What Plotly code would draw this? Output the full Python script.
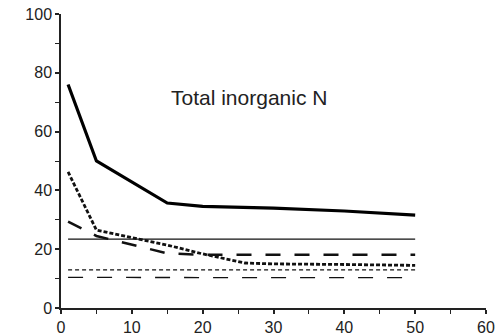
import plotly.graph_objects as go

# Data
thick_solid_x = [1, 5, 15, 20, 30, 40, 50]
thick_solid_y = [76, 50, 35.7, 34.6, 34.0, 33.0, 31.6]

thin_solid_x = [1, 50]
thin_solid_y = [23.4, 23.4]

thick_dot_x = [1, 5, 15, 20, 26, 30, 40, 50]
thick_dot_y = [46.3, 26.5, 21.4, 18.4, 15.3, 15.0, 14.8, 14.5]

long_dash_x = [1, 5, 15, 20, 30, 40, 50]
long_dash_y = [29.4, 24.5, 18.6, 18.1, 18.1, 18.1, 18.1]

thin_short_dash_x = [1, 50]
thin_short_dash_y = [13.0, 13.0]

thin_long_dash_x = [1, 50]
thin_long_dash_y = [10.4, 10.3]

x_ticks = [0, 10, 20, 30, 40, 50, 60]
y_ticks = [0, 20, 40, 60, 80, 100]
label_text = "Total inorganic N"

fig = go.Figure()
fig.add_trace(go.Scatter(x=thin_solid_x, y=thin_solid_y, mode="lines",
                         line=dict(color="#111", width=1.3)))
fig.add_trace(go.Scatter(x=thin_short_dash_x, y=thin_short_dash_y, mode="lines",
                         line=dict(color="#111", width=1.3, dash="4px,3px")))
fig.add_trace(go.Scatter(x=thin_long_dash_x, y=thin_long_dash_y, mode="lines",
                         line=dict(color="#111", width=1.3, dash="15px,14px")))
fig.add_trace(go.Scatter(x=long_dash_x, y=long_dash_y, mode="lines",
                         line=dict(color="#111", width=2.5, dash="15px,14px")))
fig.add_trace(go.Scatter(x=thick_dot_x, y=thick_dot_y, mode="lines",
                         line=dict(color="#111", width=2.8, dash="4px,2px")))
fig.add_trace(go.Scatter(x=thick_solid_x, y=thick_solid_y, mode="lines",
                         line=dict(color="#000", width=3.2)))

fig.add_annotation(x=26.6, y=71.5, text=label_text, showarrow=False,
                   font=dict(size=21, color="#222", family="Liberation Sans"))

axis_common = dict(showgrid=False, zeroline=False, showline=True, linecolor="#222",
                   linewidth=1.5, ticks="outside", ticklen=4, tickwidth=1.5,
                   tickcolor="#222", automargin=False, ticklabeloverflow="allow",
                   tickfont=dict(size=16, color="#222", family="Liberation Sans"))
fig.update_xaxes(range=[0, 60], tickvals=x_ticks,
                 minor=dict(dtick=5, tick0=0, ticks="outside", ticklen=4,
                            tickwidth=1.2, tickcolor="#222"),
                 **axis_common)
fig.update_yaxes(range=[0, 100], tickvals=y_ticks,
                 minor=dict(dtick=10, tick0=0, ticks="outside", ticklen=4,
                            tickwidth=1.2, tickcolor="#222"),
                 **axis_common)

fig.update_layout(width=495, height=335, showlegend=False,
                  plot_bgcolor="white", paper_bgcolor="white",
                  margin=dict(l=61, r=9, t=14, b=27))

fig.write_html("out.html")
